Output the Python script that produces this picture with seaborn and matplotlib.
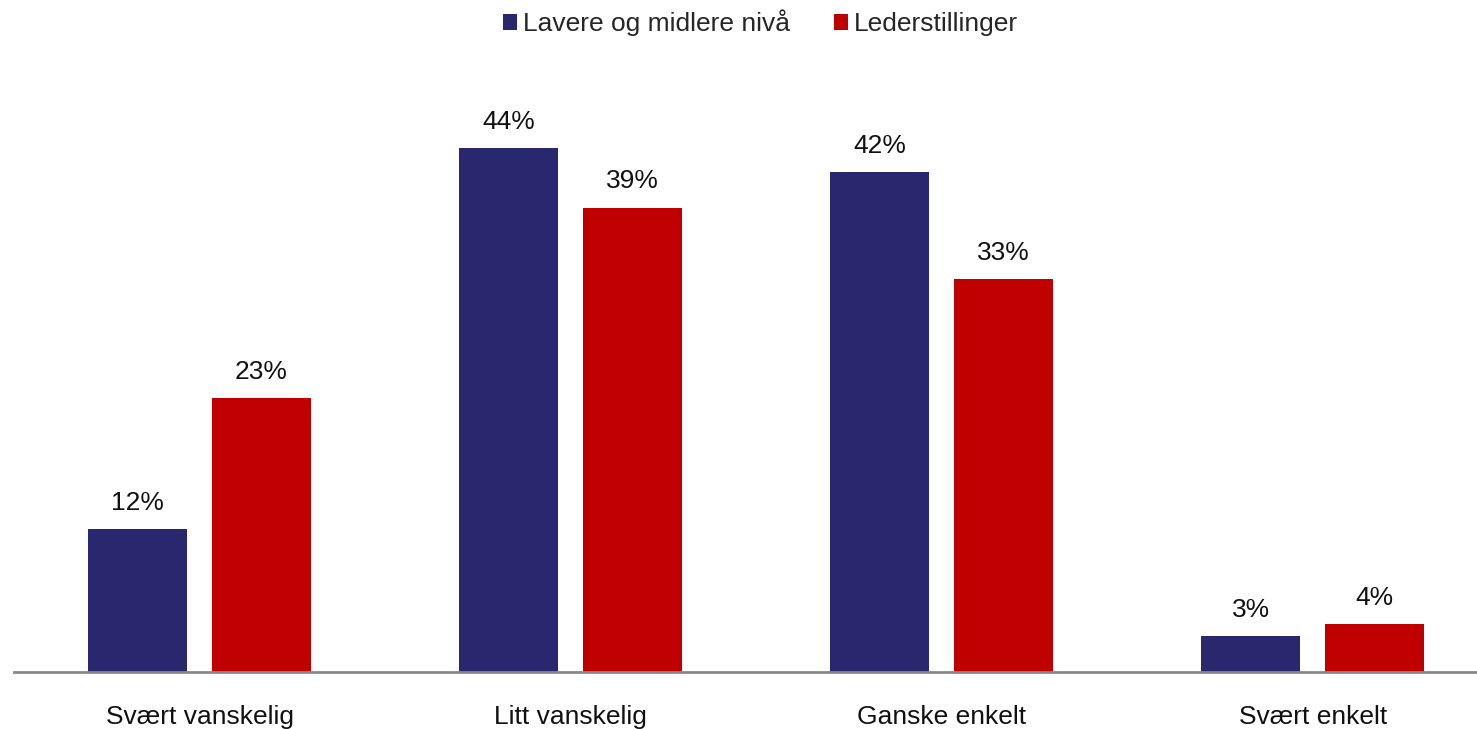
import matplotlib
matplotlib.use("Agg")
import matplotlib.pyplot as plt
import seaborn as sns
import pandas as pd
from matplotlib.patches import Patch

categories = ["Svært vanskelig", "Litt vanskelig", "Ganske enkelt", "Svært enkelt"]
series_names = ["Lavere og midlere nivå", "Lederstillinger"]
lavere = [12, 44, 42, 3]
leder = [23, 39, 33, 4]
colors = ["#29286F", "#C00000"]

df = pd.DataFrame({
    "cat": categories * 2,
    "serie": [series_names[0]] * 4 + [series_names[1]] * 4,
    "val": lavere + leder,
})

sns.set_theme(style="white")
plt.rcParams["font.family"] = ["Liberation Sans", "DejaVu Sans"]

FS = 19
fig = plt.figure(figsize=(14.77, 7.29), dpi=100)
ax = fig.add_axes([14 / 1477, 57 / 729, 1 - 14 / 1477, (672 - 80) / 729])

sns.barplot(data=df, x="cat", y="val", hue="serie", order=categories,
            hue_order=series_names, palette=colors, width=0.667, gap=0.2,
            linewidth=0, saturation=1, ax=ax, legend=False)

for cont in ax.containers:
    ax.bar_label(cont, labels=[f"{v:.0f}%" for v in cont.datavalues],
                 padding=10.5, fontsize=FS, color="#111111")

ax.set_xlim(-0.5, 3.443)
ax.set_ylim(0, (672 - 80) / 11.9)
ax.set_xlabel("")
ax.set_ylabel("")
ax.set_yticks([])
ax.tick_params(axis="x", length=0, pad=23.5, labelsize=FS, labelcolor="#111111")
for s in ["top", "right", "left"]:
    ax.spines[s].set_visible(False)
ax.spines["bottom"].set_color("#898989")
ax.spines["bottom"].set_linewidth(2)

handles = [Patch(facecolor=c, edgecolor="none") for c in colors]
fig.legend(handles, series_names, loc="center", bbox_to_anchor=(0.515, 1 - 23 / 729),
           ncol=2, frameon=False, fontsize=FS, handlelength=0.53, handleheight=0.53,
           handletextpad=0.23, columnspacing=1.67)

fig.savefig("out.png", dpi=100)
